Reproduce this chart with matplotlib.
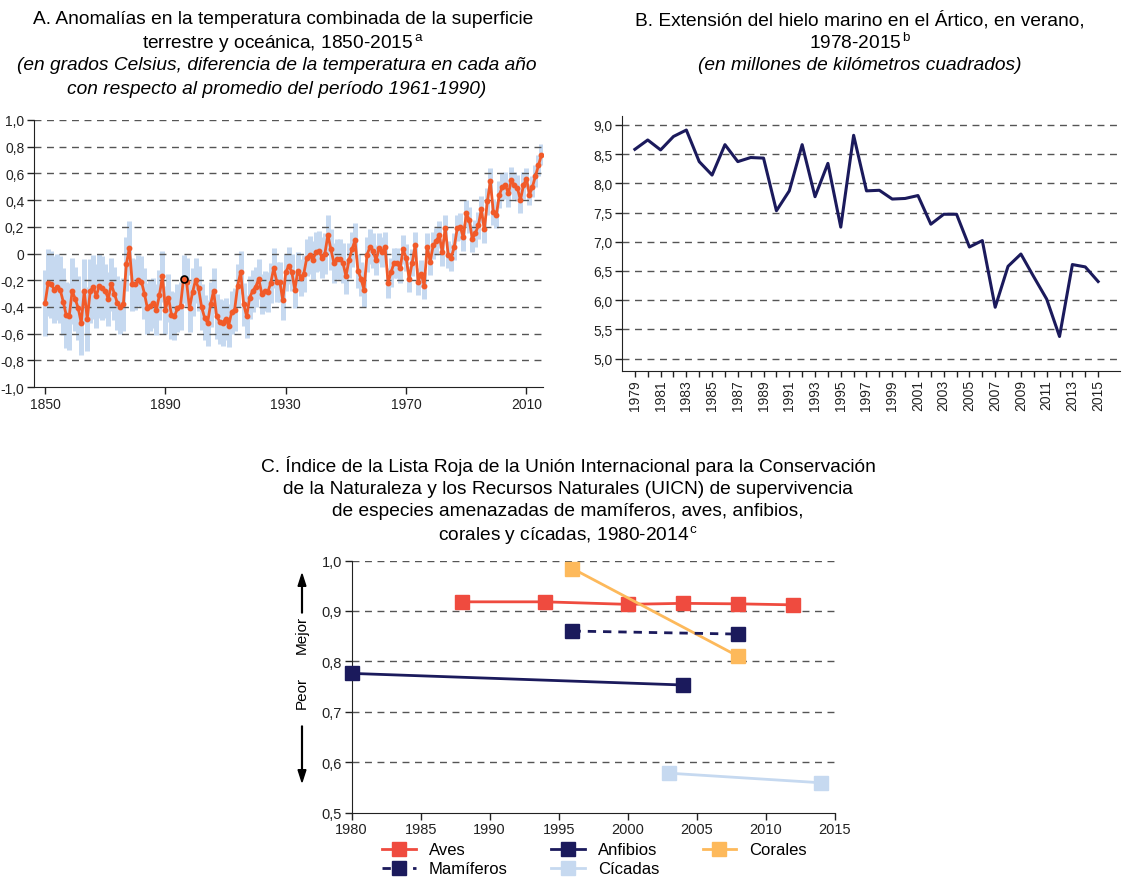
import matplotlib
matplotlib.use("Agg")
import matplotlib.pyplot as plt
from matplotlib.lines import Line2D
from matplotlib.patches import FancyArrow
import numpy as np

plt.rcParams['font.family'] = ['Liberation Sans', 'DejaVu Sans']
plt.rcParams['mathtext.fontset'] = 'custom'
plt.rcParams['mathtext.rm'] = 'Liberation Sans'
plt.rcParams['mathtext.it'] = 'Liberation Sans:italic'

# ---- Datos panel A: anomalias de temperatura 1850-2015 ----
anios_a = list(range(1850, 2016))
anomalia = [
    -0.37, -0.22, -0.23, -0.27, -0.25, -0.27, -0.36, -0.46, -0.47, -0.28,   # 1850s
    -0.34, -0.41, -0.52, -0.28, -0.49, -0.28, -0.25, -0.32, -0.24, -0.26,   # 1860s
    -0.28, -0.34, -0.23, -0.30, -0.37, -0.40, -0.38, -0.08, 0.04, -0.23,    # 1870s
    -0.23, -0.20, -0.21, -0.30, -0.41, -0.39, -0.37, -0.42, -0.31, -0.17,   # 1880s
    -0.42, -0.33, -0.46, -0.47, -0.41, -0.39, -0.19, -0.21, -0.41, -0.29,   # 1890s
    -0.20, -0.26, -0.40, -0.48, -0.52, -0.38, -0.28, -0.47, -0.51, -0.52,   # 1900s
    -0.49, -0.54, -0.44, -0.42, -0.24, -0.14, -0.38, -0.47, -0.33, -0.28,   # 1910s
    -0.25, -0.19, -0.30, -0.28, -0.29, -0.22, -0.11, -0.21, -0.21, -0.35,   # 1920s
    -0.14, -0.09, -0.14, -0.27, -0.13, -0.18, -0.15, -0.03, -0.01, -0.05,   # 1930s
    0.01, 0.02, -0.03, 0.00, 0.14, 0.03, -0.07, -0.04, -0.04, -0.07,        # 1940s
    -0.17, -0.05, 0.03, 0.10, -0.13, -0.19, -0.27, -0.01, 0.05, 0.02,       # 1950s
    -0.05, 0.04, 0.01, 0.05, -0.22, -0.14, -0.07, -0.07, -0.11, 0.03,       # 1960s
    -0.03, -0.19, -0.07, 0.06, -0.21, -0.15, -0.24, 0.05, -0.06, 0.06,      # 1970s
    0.09, 0.14, 0.01, 0.19, -0.01, -0.03, 0.05, 0.19, 0.20, 0.12,           # 1980s
    0.30, 0.25, 0.11, 0.15, 0.21, 0.33, 0.18, 0.39, 0.54, 0.31,             # 1990s
    0.29, 0.44, 0.50, 0.51, 0.45, 0.55, 0.51, 0.49, 0.40, 0.51,             # 2000s
    0.56, 0.44, 0.50, 0.58, 0.66, 0.74,                                     # 2010s
]
# semiamplitud del intervalo de incertidumbre, por decada (1850s ... 2010s)
incert_decada = [0.25, 0.24, 0.20, 0.19, 0.18, 0.17, 0.16, 0.15, 0.14,
                 0.15, 0.13, 0.11, 0.10, 0.10, 0.10, 0.10, 0.08]

# ---- Datos panel B: extension del hielo marino artico ----
anios_b = list(range(1979, 2016))
hielo = [8.58, 8.74, 8.57, 8.80, 8.91, 8.37, 8.14, 8.66, 8.37, 8.44,
         8.43, 7.53, 7.87, 8.66, 7.77, 8.34, 7.25, 8.82, 7.87, 7.88,
         7.73, 7.74, 7.79, 7.30, 7.47, 7.47, 6.91, 7.02, 5.88, 6.58,
         6.79, 6.40, 6.02, 5.38, 6.61, 6.57, 6.32]

# ---- Datos panel C: Indice de la Lista Roja ----
aves_x = [1988, 1994, 2000, 2004, 2008, 2012]
aves_y = [0.918, 0.918, 0.913, 0.915, 0.914, 0.912]
anfibios_x = [1980, 2004]
anfibios_y = [0.776, 0.753]
mamiferos_x = [1996, 2008]
mamiferos_y = [0.860, 0.854]
corales_x = [1996, 2008]
corales_y = [0.984, 0.810]
cicadas_x = [2003, 2014]
cicadas_y = [0.578, 0.559]

NAVY = '#1b1a5c'
GRIS = '#555555'
DASH = (0, (5, 4))
FS_TIT = 13.8
FS_TICK = 10

fig = plt.figure(figsize=(11.24, 8.78), dpi=100)

def rejilla(ax, valores):
    for v in valores:
        ax.axhline(v, color=GRIS, lw=1.0, ls=DASH, zorder=1.5)

def estilo(ax):
    ax.spines['top'].set_visible(False)
    ax.spines['right'].set_visible(False)
    ax.spines['left'].set_color('#222222')
    ax.spines['bottom'].set_color('#222222')
    ax.tick_params(direction='out', length=5, width=1, pad=2, colors='#222222',
                   labelsize=FS_TICK)

def coma(v, dec=1):
    if abs(v) < 1e-9:
        return '0'
    return f'{v:.{dec}f}'.replace('.', ',')

# ================= Panel A =================
axA = fig.add_axes([34 / 1124, 1 - 388 / 878, 509 / 1124, 267 / 878])
estilo(axA)
x_a = np.array(anios_a)
y_a = np.array(anomalia)
inc = np.repeat(incert_decada, 10)[:len(y_a)]
axA.vlines(x_a, y_a - inc, y_a + inc, color='#c6d9f0', lw=3.6, zorder=1)
yt = np.round(np.arange(-1.0, 1.01, 0.2), 1)
rejilla(axA, yt[1:])
axA.plot(x_a, y_a, color='#f15a29', lw=2.0, marker='o', ms=3.2, zorder=3)
axA.plot(1896, anomalia[1896 - 1850], marker='o', ms=5, mfc='#f15a29',
         mec='black', mew=1.2, zorder=4)
axA.set_xlim(1846.3, 2015.5)
axA.set_ylim(-1.0, 1.0)
axA.set_yticks(yt)
axA.set_yticklabels([coma(v) for v in yt])
axA.set_xticks([1850, 1890, 1930, 1970, 2010])

fig.text(283 / 1124, 1 - 20 / 878, 'A. Anomalías en la temperatura combinada de la superficie',
         ha='center', va='center', fontsize=FS_TIT)
fig.text(283 / 1124, 1 - 43 / 878, 'terrestre y oceánica, 1850-2015$^{\\,\\mathrm{a}}$',
         ha='center', va='center', fontsize=FS_TIT)
fig.text(277 / 1124, 1 - 66 / 878, '(en grados Celsius, diferencia de la temperatura en cada año',
         ha='center', va='center', fontsize=FS_TIT, style='italic')
fig.text(277 / 1124, 1 - 89 / 878, 'con respecto al promedio del período 1961-1990)',
         ha='center', va='center', fontsize=FS_TIT, style='italic')

# ================= Panel B =================
axB = fig.add_axes([622 / 1124, 1 - 372 / 878, 498 / 1124, 255 / 878])
estilo(axB)
ytb = np.arange(5.0, 9.01, 0.5)
rejilla(axB, ytb)
axB.plot(anios_b, hielo, color=NAVY, lw=2.2, zorder=3)
axB.set_xlim(1978, 2016.7)
axB.set_ylim(4.79, 9.15)
axB.set_yticks(ytb)
axB.set_yticklabels([coma(v) for v in ytb])
axB.set_xticks(anios_b)
axB.set_xticklabels([str(a) if a % 2 == 1 else '' for a in anios_b], rotation=90)
axB.tick_params(axis='x', length=4)

fig.text(860 / 1124, 1 - 20 / 878, 'B. Extensión del hielo marino en el Ártico, en verano,',
         ha='center', va='center', fontsize=FS_TIT)
fig.text(860 / 1124, 1 - 43 / 878, '1978-2015$^{\\,\\mathrm{b}}$',
         ha='center', va='center', fontsize=FS_TIT)
fig.text(860 / 1124, 1 - 66 / 878, '(en millones de kilómetros cuadrados)',
         ha='center', va='center', fontsize=FS_TIT, style='italic')

# ================= Panel C =================
axC = fig.add_axes([351.6 / 1124, 1 - 813.5 / 878, 483.2 / 1124, 252 / 878])
estilo(axC)
ytc = np.round(np.arange(0.5, 1.01, 0.1), 1)
rejilla(axC, ytc[1:])
ms = 10
axC.plot(aves_x, aves_y, color='#ef4b3f', lw=2, marker='s', ms=ms, zorder=3, clip_on=False)
axC.plot(anfibios_x, anfibios_y, color=NAVY, lw=2, marker='s', ms=ms, zorder=5, clip_on=False)
axC.plot(corales_x, corales_y, color='#fdb95b', lw=2, marker='s', ms=ms, zorder=3, clip_on=False)
axC.plot(mamiferos_x, mamiferos_y, color=NAVY, lw=2, ls=(0, (3, 2.5)), marker='s', ms=ms,
         zorder=3, clip_on=False)
axC.plot(cicadas_x, cicadas_y, color='#c6d9f0', lw=2, marker='s', ms=ms, zorder=3, clip_on=False)
axC.set_xlim(1980, 2015)
axC.set_ylim(0.5, 1.0)
axC.set_xticks(range(1980, 2016, 5))
axC.set_yticks(ytc)
axC.set_yticklabels([coma(v) for v in ytc])
axC.tick_params(labelsize=10.5)

titulo_c = ['C. Índice de la Lista Roja de la Unión Internacional para la Conservación',
            'de la Naturaleza y los Recursos Naturales (UICN) de supervivencia',
            'de especies amenazadas de mamíferos, aves, anfibios,',
            'corales y cícadas, 1980-2014$^{\\,\\mathrm{c}}$']
for i, linea in enumerate(titulo_c):
    fig.text(568 / 1124, 1 - (466 + 23 * i) / 878, linea, ha='center', va='center', fontsize=FS_TIT)

# Mejor / Peor
fig.text(302 / 1124, 1 - 635 / 878, 'Mejor', rotation=90, ha='center', va='center', fontsize=11)
fig.text(302 / 1124, 1 - 693 / 878, 'Peor', rotation=90, ha='center', va='center', fontsize=11)
fig.patches.append(FancyArrow(
    302 / 1124, 1 - 614 / 878, 0, 39 / 878, width=0.0007, head_width=0.007,
    head_length=0.014, length_includes_head=True, color='black', transform=fig.transFigure))
fig.patches.append(FancyArrow(
    302 / 1124, 1 - 727 / 878, 0, -56 / 878, width=0.0007, head_width=0.007,
    head_length=0.014, length_includes_head=True, color='black', transform=fig.transFigure))

handles = [
    Line2D([], [], color='#ef4b3f', lw=2, marker='s', ms=ms),
    Line2D([], [], color=NAVY, lw=2, ls=(0, (3, 2.5)), marker='s', ms=ms),
    Line2D([], [], color=NAVY, lw=2, marker='s', ms=ms),
    Line2D([], [], color='#c6d9f0', lw=2, marker='s', ms=ms),
    Line2D([], [], color='#fdb95b', lw=2, marker='s', ms=ms),
]
labels = ['Aves', 'Mamíferos', 'Anfibios', 'Cícadas', 'Corales']
fig.legend(handles, labels, ncol=3, loc='upper left', bbox_to_anchor=(374 / 1124, 1 - 835 / 878),
           frameon=False, fontsize=12, handlelength=2.0, handletextpad=0.8,
           columnspacing=2.6, labelspacing=0.25, borderpad=0)

fig.savefig('out.png', dpi=100)
